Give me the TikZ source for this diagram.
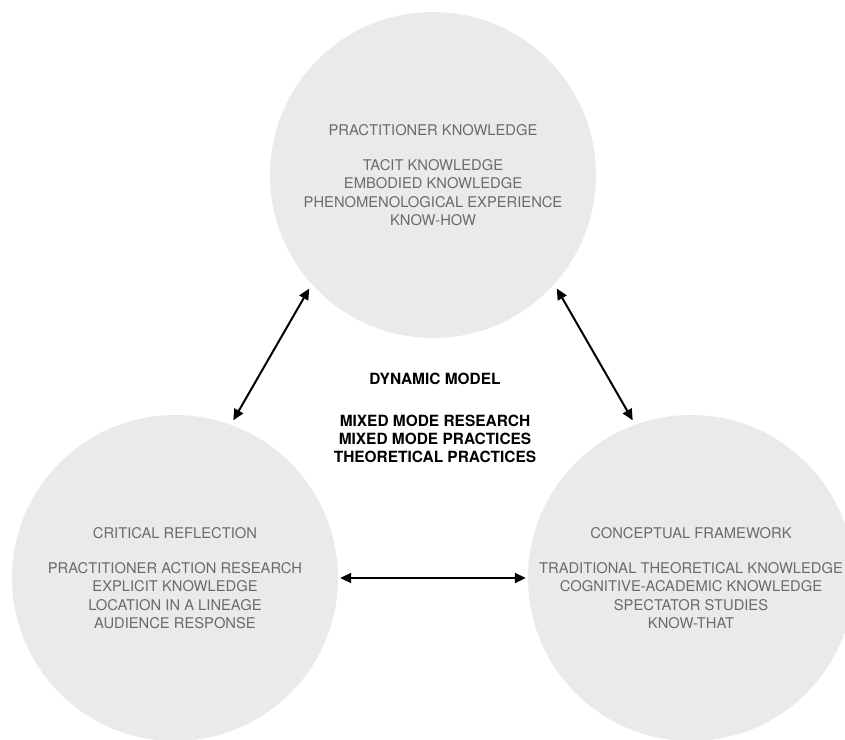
\documentclass[tikz,border=0pt]{standalone}
\usepackage{fontspec}
\setmainfont{TeX Gyre Heros}
\usetikzlibrary{arrows.meta}
\definecolor{circfill}{HTML}{EAEAEA}
\definecolor{labgray}{HTML}{6B6B6B}
\tikzset{
	knowcirc/.style={circle,fill=circfill,minimum size=326bp,inner sep=0pt,
		text=labgray,align=center,font=\fontsize{14.8}{18.3}\selectfont},
	link/.style={{Triangle[length=11bp,width=10bp]}-{Triangle[length=11bp,width=10bp]},
		line width=2bp,shorten <=5bp,shorten >=5bp}
}
\begin{document}
\begin{tikzpicture}[x=1bp,y=-1bp]
\useasboundingbox (0,0) rectangle (845,740);
\node[knowcirc] (PK) at (433,175) {PRACTITIONER KNOWLEDGE\\[17bp]
	TACIT KNOWLEDGE\\EMBODIED KNOWLEDGE\\PHENOMENOLOGICAL EXPERIENCE\\KNOW-HOW};
\node[knowcirc] (CR) at (175,578) {CRITICAL REFLECTION\\[17bp]
	PRACTITIONER ACTION RESEARCH\\EXPLICIT KNOWLEDGE\\LOCATION IN A LINEAGE\\AUDIENCE RESPONSE};
\node[knowcirc] (CF) at (691,578) {CONCEPTUAL FRAMEWORK\\[17bp]
	TRADITIONAL THEORETICAL KNOWLEDGE\\COGNITIVE-ACADEMIC KNOWLEDGE\\SPECTATOR STUDIES\\KNOW-THAT};
\node[align=center,font=\fontsize{15.5}{18.3}\selectfont\bfseries] (DM) at (435,418)
	{DYNAMIC MODEL\\[23bp]MIXED MODE RESEARCH\\MIXED MODE PRACTICES\\THEORETICAL PRACTICES};
\draw[link] (PK.222) -- (CR.70);
\draw[link] (PK.318) -- (CF.110);
\draw[link,shorten <=2bp,shorten >=2bp] (CR.east) -- (CF.west);
\end{tikzpicture}
\end{document}
